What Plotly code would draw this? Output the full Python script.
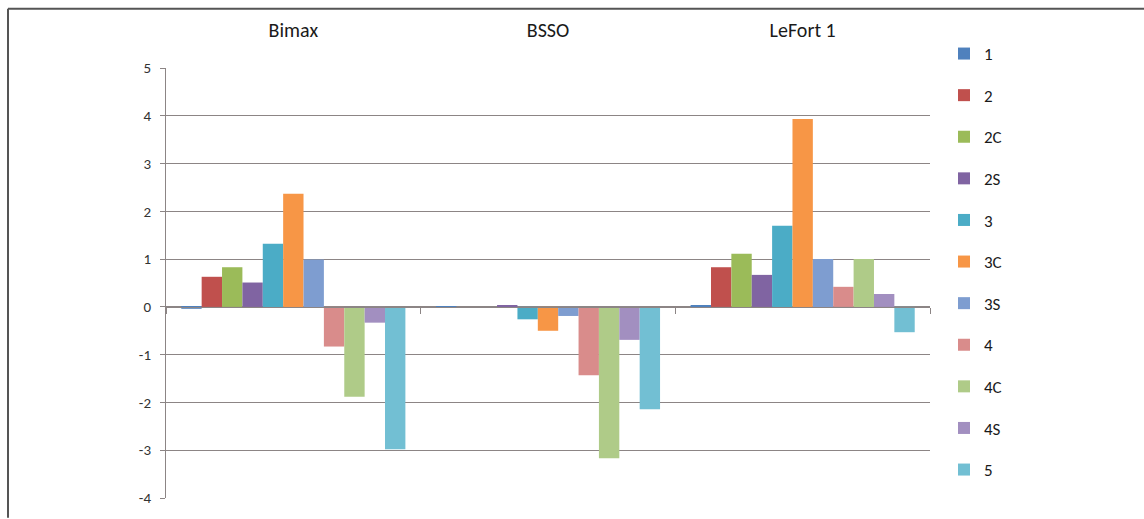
import plotly.graph_objects as go

categories = ["Bimax", "BSSO", "LeFort 1"]
series_names = ["1", "2", "2C", "2S", "3", "3C", "3S", "4", "4C", "4S", "5"]
v_1 = [-0.04, -0.02, 0.02]
v_2 = [0.63, 0.0, 0.83]
v_2C = [0.83, 0.0, 1.11]
v_2S = [0.51, 0.02, 0.67]
v_3 = [1.32, -0.26, 1.70]
v_3C = [2.37, -0.50, 3.93]
v_3S = [0.99, -0.19, 1.00]
v_4 = [-0.83, -1.43, 0.42]
v_4C = [-1.88, -3.17, 1.00]
v_4S = [-0.33, -0.69, 0.27]
v_5 = [-2.98, -2.14, -0.53]
values = [v_1, v_2, v_2C, v_2S, v_3, v_3C, v_3S, v_4, v_4C, v_4S, v_5]
colors = ["#4F81BD", "#C0504D", "#9BBB59", "#8064A2", "#4BACC6", "#F79646",
          "#7E9DD0", "#D98C8B", "#AFCB88", "#A28FC0", "#72BFD3"]
y_ticks = [-4, -3, -2, -1, 0, 1, 2, 3, 4, 5]
y_tick_labels = ["-4", "-3", "-2", "-1", "0", "1", "2", "3", "4", "5"]

W, H = 1144, 519
L, R, T, B = 166, 930, 68, 504
FONT = "Carlito, Lato, sans-serif"
GRID = "#8C8585"

fig = go.Figure()
for i, (name, vals, col) in enumerate(zip(series_names, values, colors)):
    fig.add_trace(go.Bar(
        x=categories, y=vals, name=name, marker=dict(color=col, line=dict(width=0)),
        legendgroup=name,
    ))

# dummy trace for the category axis at zero with boundary ticks
fig.add_trace(go.Scatter(x=[-0.5, 2.5], y=[0, 0], xaxis="x2", mode="lines",
                         line=dict(width=0), showlegend=False, hoverinfo="skip"))

fig.update_layout(
    width=W, height=H,
    margin=dict(l=L, r=W - R, t=T, b=H - B, pad=0),
    paper_bgcolor="white", plot_bgcolor="white",
    barmode="group", bargap=0.12, bargroupgap=0,
    font=dict(family=FONT, color="#404040"),
    xaxis=dict(type="category", side="top", showline=False, ticks="",
               showgrid=False, tickfont=dict(size=20, color="#1a1a1a"),
               ticklabelstandoff=26, zeroline=False),
    xaxis2=dict(overlaying="x", anchor="free", position=4 / 9, range=[-0.5, 2.5],
                showline=True, linecolor=GRID, linewidth=1, ticks="outside",
                tickvals=[-0.5, 0.5, 1.5, 2.5], ticklen=6, tickcolor=GRID,
                showticklabels=False, showgrid=False, zeroline=False),
    yaxis=dict(range=[-4, 5], tickvals=y_ticks, ticktext=y_tick_labels,
               showgrid=True, gridcolor=GRID,
               gridwidth=1, zeroline=False, showline=True, linecolor=GRID,
               ticks="outside", ticklen=5, tickcolor=GRID, ticklabelstandoff=6,
               tickfont=dict(size=15, color="#333333")),
    legend=dict(xref="container", yref="container", x=944 / W, y=1 - 36 / H,
                xanchor="left", yanchor="top", traceorder="grouped",
                tracegroupgap=16.5, font=dict(size=17, color="#1a1a1a"),
                bgcolor="rgba(0,0,0,0)", maxheight=510),
    shapes=[
        dict(type="line", xref="paper", yref="paper",
             x0=(8 - L) / (R - L), x1=(W + 5 - L) / (R - L),
             y0=(B - 8) / (B - T), y1=(B - 8) / (B - T),
             line=dict(color="#555555", width=2)),
        dict(type="line", xref="paper", yref="paper",
             x0=(8 - L) / (R - L), x1=(8 - L) / (R - L),
             y0=(B - 8) / (B - T), y1=(B - H - 5) / (B - T),
             line=dict(color="#555555", width=2)),
    ],
)

fig.write_html("out.html")
